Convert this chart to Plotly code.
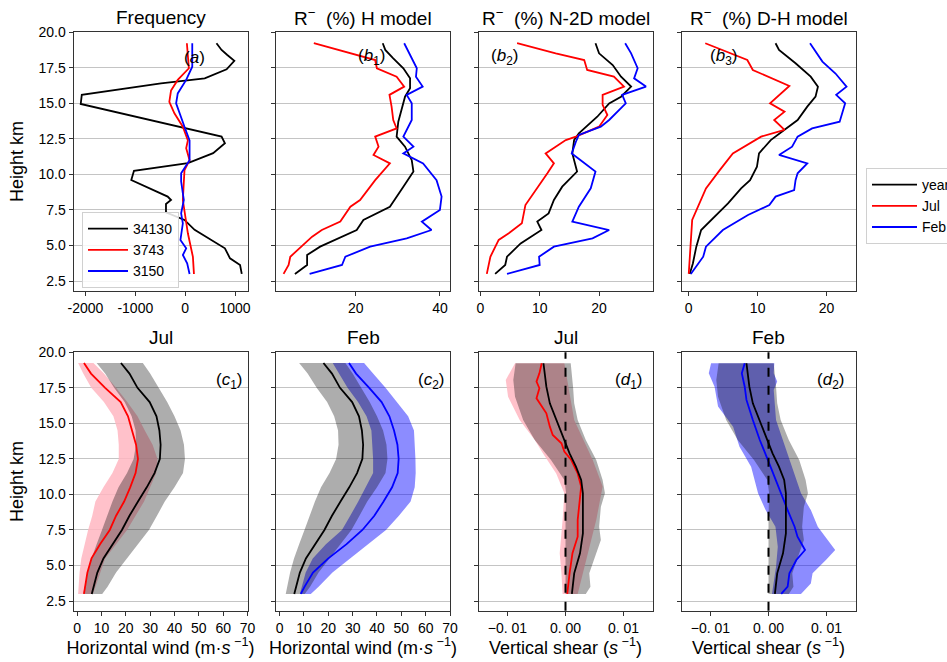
import plotly.graph_objects as go

# ---------------- DATA ----------------
# Panel (a) Frequency
H_A_34130 = [19.23, 18.76, 18.4, 18.0, 17.4, 16.76, 16.4, 15.6, 14.96, 12.66, 12.19, 11.5, 10.8, 10.26, 9.6, 8.44, 8.2, 7.92, 7.33, 6.8, 6.1, 4.8, 4.1, 3.63, 3.0]
X_A_34130 = [628, 730, 845, 986, 831, 392, -486, -2074, -2095, 730, 797, 561, 54, -1027, -1081, -351, -284, -385, -385, -14, 189, 797, 899, 1101, 1135]
H_A_3743 = [19.23, 17.47, 16.65, 15.9, 15.1, 14.3, 13.36, 12.4, 11.84, 11.0, 10.3, 8.2, 5.86, 4.2, 3.0]
X_A_3743 = [34, 74, -149, -284, -318, -216, -47, 54, 20, 88, -14, -47, 54, 155, 176]
H_A_3150 = [19.23, 17.58, 16.65, 15.7, 15.0, 14.3, 13.36, 12.4, 11.0, 10.08, 9.5, 8.2, 7.26, 6.56, 5.86, 5.39, 4.8, 4.33, 3.74, 3.0]
X_A_3150 = [142, 142, 20, -149, -182, -115, -14, 88, 88, -81, -81, -27, -81, -47, -81, -95, 20, -47, 40, 88]

# Panel (b1) H model
H_B1_JUL = [19.23, 18.05, 17.47, 16.88, 16.18, 15.6, 14.77, 13.83, 13.24, 12.66, 11.95, 11.37, 10.78, 9.6, 8.2, 7.73, 6.68, 6.09, 5.62, 4.21, 3.63, 3.0]
X_B1_JUL = [10.0, 24.6, 25.0, 29.7, 31.5, 28.0, 28.5, 28.9, 29.7, 24.6, 25.4, 24.2, 28.1, 24.6, 21.0, 18.7, 16.3, 11.9, 9.6, 4.4, 4.0, 2.8]
H_B1_YEAR = [19.23, 18.76, 18.17, 17.47, 16.76, 16.06, 15.47, 14.53, 13.71, 12.66, 11.95, 11.0, 10.2, 9.14, 7.73, 6.8, 6.09, 4.92, 4.33, 3.63, 3.0]
X_B1_YEAR = [26.4, 27.0, 28.9, 31.3, 32.9, 32.9, 31.7, 30.9, 30.1, 29.7, 31.7, 33.3, 33.7, 31.3, 28.1, 21.8, 20.2, 11.5, 8.4, 8.4, 5.5]
H_B1_FEB = [19.23, 18.4, 17.47, 16.88, 16.18, 15.6, 15.0, 13.83, 12.66, 11.95, 11.48, 10.78, 9.6, 8.44, 7.5, 6.68, 6.09, 5.5, 4.92, 4.21, 3.63, 3.0]
X_B1_FEB = [31.5, 32.9, 34.5, 34.3, 35.9, 32.1, 33.3, 33.3, 31.3, 33.7, 31.3, 36.0, 39.2, 40.4, 40.0, 35.7, 38.0, 32.1, 23.4, 17.5, 16.7, 9.0]

# Panel (b2) N-2D model
H_B2_JUL = [19.23, 18.52, 18.05, 17.35, 16.88, 16.18, 15.6, 14.9, 14.18, 13.36, 12.66, 12.42, 11.48, 10.78, 10.08, 8.9, 7.85, 6.56, 5.86, 5.39, 4.21, 3.0]
X_B2_JUL = [6.2, 12.7, 17.5, 18.0, 22.5, 24.2, 20.6, 20.6, 21.4, 20.0, 16.1, 14.4, 11.0, 12.4, 11.3, 9.3, 7.6, 7.0, 4.8, 3.1, 1.7, 1.1]
H_B2_YEAR = [19.23, 18.52, 17.7, 16.88, 16.18, 15.47, 15.0, 14.06, 12.89, 12.42, 11.48, 10.2, 9.14, 8.2, 7.26, 6.68, 6.09, 5.15, 4.21, 3.63, 3.0]
X_B2_YEAR = [19.4, 20.0, 22.3, 23.7, 25.4, 23.7, 21.7, 19.7, 16.6, 15.8, 15.5, 16.3, 13.8, 12.4, 11.5, 9.6, 10.3, 6.8, 4.5, 4.2, 2.5]
H_B2_FEB = [19.23, 18.52, 17.47, 16.76, 16.18, 15.6, 15.0, 13.83, 13.36, 12.78, 12.3, 11.48, 11.0, 10.2, 9.02, 7.73, 6.68, 6.09, 5.5, 4.92, 4.21, 3.63, 3.0]
X_B2_FEB = [24.4, 25.4, 26.5, 25.9, 27.9, 23.9, 24.5, 21.7, 20.3, 16.6, 16.1, 15.4, 16.9, 19.4, 18.6, 16.6, 15.5, 21.7, 18.9, 12.4, 9.9, 10.0, 4.5]

# Panel (b3) D-H model
H_B3_JUL = [19.23, 18.05, 17.35, 16.22, 15.0, 14.42, 13.83, 13.13, 12.66, 11.48, 10.3, 9.02, 6.8, 4.45, 3.0]
X_B3_JUL = [2.4, 8.5, 9.3, 14.6, 11.8, 13.9, 12.4, 13.9, 10.5, 6.4, 4.5, 2.5, 0.5, 0.14, 0.0]
H_B3_YEAR = [19.23, 18.76, 17.82, 16.88, 16.18, 15.47, 14.77, 13.83, 13.13, 12.42, 11.48, 10.55, 9.6, 9.02, 7.97, 7.03, 6.09, 4.92, 3.74, 3.0]
X_B3_YEAR = [12.6, 13.1, 15.5, 17.7, 18.75, 18.4, 17.2, 15.8, 13.85, 11.9, 10.2, 9.9, 8.9, 7.6, 5.7, 3.75, 1.8, 1.1, 0.6, 0.14]
H_B3_FEB = [19.23, 17.94, 17.1, 16.18, 15.6, 15.0, 13.71, 13.24, 12.66, 11.95, 11.37, 10.78, 10.08, 9.6, 8.9, 8.44, 7.85, 7.15, 6.09, 4.92, 4.21, 3.0]
X_B3_FEB = [17.6, 19.4, 21.3, 22.9, 21.4, 22.7, 21.9, 17.9, 15.8, 15.0, 13.1, 17.2, 15.8, 15.5, 15.3, 12.6, 11.7, 8.6, 4.95, 2.5, 2.1, 0.3]

# Panels (c1, c2) horizontal wind: mean and spread
H_C = [19.25, 18.5, 17.5, 16.5, 15.5, 14.5, 13.5, 12.5, 11.5, 10.5, 9.5, 8.5, 7.5, 6.5, 5.5, 4.5, 3.5, 3.0]
WIND_YEAR_MEAN = [18.0, 21.5, 24.8, 29.8, 32.6, 33.8, 34.3, 34.0, 31.8, 28.6, 25.0, 21.5, 18.4, 14.5, 10.8, 8.3, 6.8, 6.0]
WIND_YEAR_LO = [8.0, 11.5, 15.2, 19.5, 22.4, 24.0, 24.2, 23.2, 20.5, 17.0, 14.5, 12.5, 10.2, 8.0, 5.9, 4.3, 3.0, 2.5]
WIND_YEAR_HI = [27.0, 30.0, 33.5, 37.0, 40.0, 42.5, 43.9, 44.3, 43.5, 40.0, 36.0, 32.8, 29.5, 25.0, 20.5, 16.0, 12.5, 10.3]
WIND_JUL_MEAN = [2.8, 5.7, 11.5, 17.9, 20.9, 22.6, 24.2, 25.0, 24.0, 21.8, 19.3, 16.0, 13.4, 9.4, 5.9, 4.2, 3.3, 2.8]
WIND_JUL_LO = [0.4, 2.5, 5.8, 11.0, 14.9, 16.6, 17.1, 17.1, 14.5, 10.8, 7.5, 6.2, 4.5, 3.2, 1.7, 1.0, 0.6, 0.4]
WIND_JUL_HI = [6.7, 11.0, 16.0, 20.6, 24.8, 27.8, 31.0, 33.0, 32.5, 30.0, 27.5, 24.0, 20.5, 16.0, 11.5, 9.2, 7.5, 6.5]
WIND_FEB_MEAN = [28.5, 31.4, 36.8, 41.9, 45.1, 47.0, 48.4, 48.9, 48.5, 46.2, 42.7, 38.9, 34.0, 27.5, 20.0, 13.7, 10.2, 8.7]
WIND_FEB_LO = [21.8, 24.4, 27.9, 32.2, 35.7, 37.7, 38.2, 38.4, 38.4, 35.5, 32.3, 29.0, 25.6, 19.0, 13.6, 10.7, 9.1, 8.3]
WIND_FEB_HI = [34.7, 38.4, 43.5, 48.3, 52.8, 55.2, 55.6, 55.8, 55.9, 55.5, 53.8, 49.0, 43.7, 36.5, 29.0, 21.7, 16.0, 12.8]

# Panels (d1, d2) vertical shear
H_SH_YEAR = [19.23, 18.52, 17.58, 16.41, 15.24, 14.07, 12.89, 11.95, 11.02, 10.08, 8.67, 7.26, 5.86, 4.45, 3.0]
SH_YEAR = [-0.0038, -0.0036, -0.0033, -0.0027, -0.0016, -0.0005, 0.0007, 0.0018, 0.0027, 0.0030, 0.0030, 0.0030, 0.0025, 0.0015, 0.0011]
H_SH_YEAR_LO = [19.23, 18.05, 16.88, 15.24, 13.83, 12.42, 11.02, 10.08, 8.2, 5.86, 3.0]
SH_YEAR_LO = [-0.0086, -0.0090, -0.0087, -0.0073, -0.0053, -0.0025, -0.0002, 0.0001, 0.0000, 0.0000, 0.0000]
H_SH_YEAR_HI = [19.23, 17.58, 16.41, 15.24, 13.83, 12.42, 11.02, 10.08, 9.14, 7.73, 6.79, 5.86, 4.45, 3.51, 3.0]
SH_YEAR_HI = [0.0009, 0.0013, 0.0015, 0.0021, 0.0035, 0.0053, 0.0064, 0.0068, 0.0061, 0.0058, 0.0061, 0.0053, 0.0041, 0.0043, 0.0035]

H_SH_JUL = [19.23, 18.52, 17.94, 17.47, 16.76, 15.71, 14.77, 14.18, 13.6, 13.01, 12.42, 11.48, 10.55, 9.14, 8.2, 7.03, 5.86, 4.45, 3.0]
SH_JUL = [-0.0041, -0.0045, -0.0050, -0.0045, -0.0050, -0.0033, -0.0027, -0.0022, -0.0007, -0.0002, 0.0010, 0.0021, 0.0027, 0.0024, 0.0021, 0.0021, 0.0012, 0.0007, 0.0003]
H_SH_JUL_LO = [19.23, 18.05, 16.88, 15.24, 13.83, 12.89, 11.48, 10.08, 8.2, 5.86, 4.45, 3.0]
SH_JUL_LO = [-0.0087, -0.0103, -0.0099, -0.0079, -0.0053, -0.0039, -0.0016, -0.0002, -0.0005, -0.0010, -0.0007, -0.0005]
H_SH_JUL_HI = [19.23, 15.24, 12.42, 10.55, 8.2, 5.86, 3.0]
SH_JUL_HI = [-0.0002, 0.0015, 0.0047, 0.0064, 0.0053, 0.0038, 0.0021]

H_SH_FEB = [19.23, 18.52, 17.58, 16.65, 15.24, 13.83, 12.42, 11.25, 10.08, 8.9, 7.73, 7.03, 6.09, 5.39, 4.45, 3.51, 3.0]
SH_FEB = [-0.0041, -0.0046, -0.0041, -0.0038, -0.0027, -0.0015, -0.0001, 0.0010, 0.0021, 0.0033, 0.0045, 0.0050, 0.0063, 0.0048, 0.0036, 0.0033, 0.0022]
H_SH_FEB_LO = [19.23, 18.52, 17.58, 16.18, 14.77, 13.36, 11.95, 11.02, 10.08, 8.9, 7.73, 6.32, 4.92, 3.0]
SH_FEB_LO = [-0.0099, -0.0103, -0.0093, -0.0087, -0.0061, -0.0050, -0.0030, -0.0024, -0.0018, -0.0005, 0.0012, 0.0016, 0.0013, 0.0006]
H_SH_FEB_HI = [19.23, 18.52, 17.94, 17.35, 15.24, 12.89, 11.72, 10.08, 8.9, 7.73, 6.09, 5.39, 4.45, 3.74, 3.0]
SH_FEB_HI = [0.0010, 0.0009, 0.0015, 0.0009, 0.0013, 0.0033, 0.0042, 0.0056, 0.0073, 0.0085, 0.0115, 0.0099, 0.0076, 0.0073, 0.0056]

# Tick labels
Y_TICKS = [2.5, 5.0, 7.5, 10.0, 12.5, 15.0, 17.5, 20.0]
Y_TICKTEXT = ["2.5", "5.0", "7.5", "10.0", "12.5", "15.0", "17.5", "20.0"]
SHEAR_TICKS = [-0.01, 0.0, 0.01]
SHEAR_TICKTEXT = ["\u22120. 01", "0. 00", "0. 01"]

# ---------------- FIGURE ----------------
W, Hh = 947, 662
FONT = "Liberation Sans, Arial, sans-serif"


def px_x(p):
    return p / W


def px_y(p):
    return 1 - p / Hh


col_left = [73.5, 276.0, 478.5, 681.5]
col_w = 174.0
row_top = [32.3, 352.3]
row_bot = [290.7, 610.7]

fig = go.Figure()

BLACK, RED, BLUE = "black", "red", "blue"
LW = 1.8
GRAY_FILL = "rgba(0,0,0,0.32)"
PINK_FILL = "rgba(255,182,193,0.85)"
BLUE_FILL = "rgba(0,0,255,0.45)"


def line(x, y, color, ax, name=None, legend=None):
    fig.add_trace(go.Scatter(
        x=x, y=y, mode="lines", line=dict(color=color, width=LW),
        xaxis="x" + ax, yaxis="y" + ax, name=name,
        showlegend=legend is not None, legend=legend or "legend",
        hoverinfo="skip"))


def band(xlo, hlo, xhi, hhi, color, ax):
    fig.add_trace(go.Scatter(
        x=list(xlo) + list(xhi)[::-1], y=list(hlo) + list(hhi)[::-1],
        mode="lines", fill="toself", fillcolor=color, line=dict(width=0),
        xaxis="x" + ax, yaxis="y" + ax, showlegend=False, hoverinfo="skip"))


# (a)
line(X_A_34130, H_A_34130, BLACK, "", "34130", "legend")
line(X_A_3743, H_A_3743, RED, "", "3743", "legend")
line(X_A_3150, H_A_3150, BLUE, "", "3150", "legend")
# (b1)
line(X_B1_YEAR, H_B1_YEAR, BLACK, "2")
line(X_B1_JUL, H_B1_JUL, RED, "2")
line(X_B1_FEB, H_B1_FEB, BLUE, "2")
# (b2)
line(X_B2_YEAR, H_B2_YEAR, BLACK, "3")
line(X_B2_JUL, H_B2_JUL, RED, "3")
line(X_B2_FEB, H_B2_FEB, BLUE, "3")
# (b3)
line(X_B3_YEAR, H_B3_YEAR, BLACK, "4", "year", "legend2")
line(X_B3_JUL, H_B3_JUL, RED, "4", "Jul", "legend2")
line(X_B3_FEB, H_B3_FEB, BLUE, "4", "Feb", "legend2")
# (c1)
band(WIND_JUL_LO, H_C, WIND_JUL_HI, H_C, PINK_FILL, "5")
band(WIND_YEAR_LO, H_C, WIND_YEAR_HI, H_C, GRAY_FILL, "5")
line(WIND_YEAR_MEAN, H_C, BLACK, "5")
line(WIND_JUL_MEAN, H_C, RED, "5")
# (c2)
band(WIND_FEB_LO, H_C, WIND_FEB_HI, H_C, BLUE_FILL, "6")
band(WIND_YEAR_LO, H_C, WIND_YEAR_HI, H_C, GRAY_FILL, "6")
line(WIND_YEAR_MEAN, H_C, BLACK, "6")
line(WIND_FEB_MEAN, H_C, BLUE, "6")
# (d1)
band(SH_JUL_LO, H_SH_JUL_LO, SH_JUL_HI, H_SH_JUL_HI, PINK_FILL, "7")
band(SH_YEAR_LO, H_SH_YEAR_LO, SH_YEAR_HI, H_SH_YEAR_HI, GRAY_FILL, "7")
line(SH_JUL, H_SH_JUL, RED, "7")
line(SH_YEAR, H_SH_YEAR, BLACK, "7")
# (d2)
band(SH_FEB_LO, H_SH_FEB_LO, SH_FEB_HI, H_SH_FEB_HI, BLUE_FILL, "8")
band(SH_YEAR_LO, H_SH_YEAR_LO, SH_YEAR_HI, H_SH_YEAR_HI, GRAY_FILL, "8")
line(SH_FEB, H_SH_FEB, BLUE, "8")
line(SH_YEAR, H_SH_YEAR, BLACK, "8")

x_ranges = [[-2240, 1250], [1.0, 42.4], [-0.3, 29.0], [-1.05, 24.2],
            [-1.5, 70], [-1.5, 70], [-0.015, 0.015], [-0.015, 0.015]]
x_ticks = [[-2000, -1000, 0, 1000], [20, 40], [0, 10, 20], [0, 10, 20],
           list(range(0, 71, 10)), list(range(0, 71, 10)), SHEAR_TICKS, SHEAR_TICKS]
x_ticktext = [["-2000", "-1000", "0", "1000"], ["20", "40"], ["0", "10", "20"], ["0", "10", "20"],
              [str(v) for v in range(0, 71, 10)], [str(v) for v in range(0, 71, 10)],
              SHEAR_TICKTEXT, SHEAR_TICKTEXT]
x_titles = [None, None, None, None,
            "Horizontal wind (m\u00b7<i>s</i><sup> \u22121</sup>)",
            "Horizontal wind (m\u00b7<i>s</i><sup> \u22121</sup>)",
            "Vertical shear (<i>s</i><sup> \u22121</sup>)",
            "Vertical shear (<i>s</i><sup> \u22121</sup>)"]

layout = {}
for i in range(8):
    r, c = divmod(i, 4)
    suf = "" if i == 0 else str(i + 1)
    xd = [px_x(col_left[c]), px_x(col_left[c] + col_w)]
    yd = [px_y(row_bot[r]), px_y(row_top[r])]
    xa = dict(domain=xd, range=x_ranges[i], tickvals=x_ticks[i], ticktext=x_ticktext[i],
              anchor="y" + suf, ticks="outside", ticklen=4, tickcolor="#333",
              showline=True, mirror=True, linecolor="#333", linewidth=1,
              showgrid=False, zeroline=False, automargin=False,
              tickfont=dict(size=14, color="black", family=FONT))
    if x_titles[i]:
        xa["title"] = dict(text=x_titles[i], font=dict(size=18, color="black", family=FONT), standoff=6)
    ya = dict(domain=yd, range=[1.82, 20.0], tickvals=Y_TICKS, ticktext=Y_TICKTEXT,
              anchor="x" + suf, ticks="outside", ticklen=4, tickcolor="#333",
              showline=True, mirror=True, linecolor="#333", linewidth=1,
              showgrid=True, gridcolor="#c4c4c4", gridwidth=1, zeroline=False,
              automargin=False, showticklabels=(c == 0),
              tickfont=dict(size=14, color="black", family=FONT))
    if c == 0:
        ya["title"] = dict(text="Height km", font=dict(size=18, color="black", family=FONT), standoff=10)
    layout["xaxis" + suf] = xa
    layout["yaxis" + suf] = ya

annotations = []
titles = ["Frequency", "R<sup>\u2212</sup>  (%) H model", "R<sup>\u2212</sup>  (%) N-2D model",
          "R<sup>\u2212</sup>  (%) D-H model", "Jul", "Feb", "Jul", "Feb"]
for i, t in enumerate(titles):
    r, c = divmod(i, 4)
    annotations.append(dict(text=t, x=px_x(col_left[c] + col_w / 2), y=px_y(row_top[r] - 15),
                            xref="paper", yref="paper", xanchor="center", yanchor="middle",
                            showarrow=False, font=dict(size=19, color="black", family=FONT)))

labels = [("(<i>a</i>)", 194, 57), ("(<i>b</i><sub>1</sub>)", 371, 57),
          ("(<i>b</i><sub>2</sub>)", 505, 57), ("(<i>b</i><sub>3</sub>)", 723, 57),
          ("(<i>c</i><sub>1</sub>)", 229, 381), ("(<i>c</i><sub>2</sub>)", 431, 381),
          ("(<i>d</i><sub>1</sub>)", 628, 381), ("(<i>d</i><sub>2</sub>)", 830, 381)]
for t, xx, yy in labels:
    annotations.append(dict(text=t, x=px_x(xx), y=px_y(yy), xref="paper", yref="paper",
                            xanchor="center", yanchor="middle", showarrow=False,
                            font=dict(size=17, color="black", family=FONT)))

shapes = []
for ax in ["7", "8"]:
    shapes.append(dict(type="line", xref="x" + ax, yref="y" + ax + " domain",
                       x0=0, x1=0, y0=0, y1=1, line=dict(color="black", width=2, dash="dash")))

fig.update_layout(
    width=W, height=Hh, margin=dict(l=0, r=0, t=0, b=0, autoexpand=False),
    paper_bgcolor="white", plot_bgcolor="white",
    font=dict(family=FONT, color="black"),
    annotations=annotations, shapes=shapes,
    legend=dict(x=px_x(82), y=px_y(212), xanchor="left", yanchor="top",
                bordercolor="#d0d0d0", borderwidth=1, bgcolor="rgba(255,255,255,0.85)",
                font=dict(size=14, family=FONT), itemwidth=40, tracegroupgap=0),
    legend2=dict(x=px_x(866), y=px_y(168), xanchor="left", yanchor="top",
                 bordercolor="#d0d0d0", borderwidth=1, bgcolor="rgba(255,255,255,0.85)",
                 font=dict(size=14, family=FONT), itemwidth=45, tracegroupgap=0),
    **layout,
)

fig.write_html("out.html", config={"displayModeBar": False},
               post_script="document.body.style.margin='0';document.body.style.overflow='hidden';")
